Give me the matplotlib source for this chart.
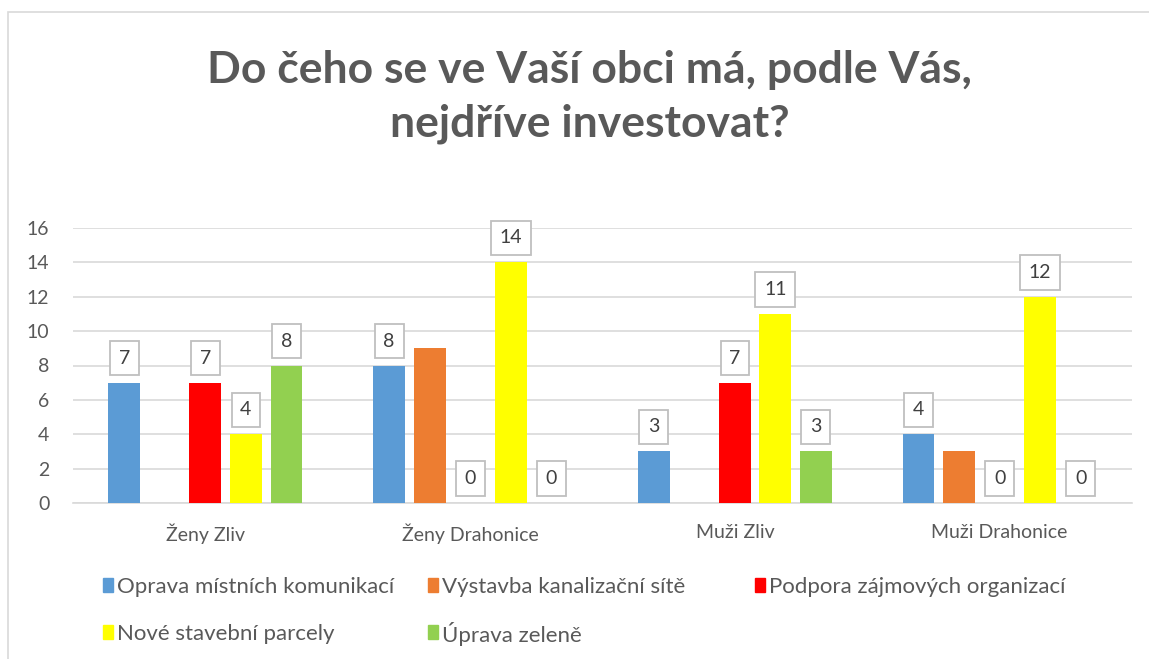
import matplotlib.pyplot as plt
from matplotlib.patches import Rectangle
import numpy as np

plt.rcParams['font.family'] = ['Lato', 'DejaVu Sans']

# data
categories = ['Ženy Zliv', 'Ženy Drahonice', 'Muži Zliv', 'Muži Drahonice']
series_names = ['Oprava místních komunikací', 'Výstavba kanalizační sítě',
                'Podpora zájmových organizací', 'Nové stavební parcely', 'Úprava zeleně']
oprava = [7, 8, 3, 4]
vystavba = [np.nan, 9, np.nan, 3]
podpora = [7, 0, 7, 0]
parcely = [4, 14, 11, 12]
zelen = [8, 0, 3, 0]
colors = ['#5B9BD5', '#ED7D31', '#FF0000', '#FFFF00', '#92D050']
show_labels = [True, False, True, True, True]

title = 'Do čeho se ve Vaší obci má, podle Vás,\nnejdříve investovat?'

txt = '#595959'
grid = '#D9D9D9'
W, H = 1149, 659

fig = plt.figure(figsize=(11.49, 6.59), dpi=100)
fig.patches.append(Rectangle((8 / W, -0.1), 1.2, (H - 12) / H + 0.1,
                             transform=fig.transFigure, fill=False,
                             edgecolor=grid, linewidth=1.2))

ax = fig.add_axes([73 / W, 1 - 503 / H, (1132 - 73) / W, (503 - 228) / H])

x = np.arange(len(categories))
step = 0.153
width = 0.12
all_vals = [oprava, vystavba, podpora, parcely, zelen]
for i, vals in enumerate(all_vals):
    pos = x + (i - 2) * step
    ax.bar(pos, vals, width, color=colors[i], zorder=3)
    if show_labels[i]:
        for p, v in zip(pos, vals):
            if np.isnan(v):
                continue
            ax.annotate(f'{v:g}', (p, v), xytext=(0, 11.5), textcoords='offset points',
                        ha='center', va='bottom', fontsize=14, color='#404040',
                        bbox=dict(boxstyle='square,pad=0.45', fc='white', ec='#BFBFBF', lw=1.3),
                        zorder=4)

ax.set_xlim(-0.5, 3.5)
ax.set_ylim(0, 16)
ax.set_yticks(range(0, 17, 2))
ax.set_xticks(x)
ax.set_xticklabels(categories)
ax.yaxis.grid(True, color=grid, linewidth=1.2, zorder=0)
for s in ['top', 'right', 'left']:
    ax.spines[s].set_visible(False)
ax.spines['bottom'].set_color(grid)
ax.spines['bottom'].set_linewidth(1.2)
ax.tick_params(axis='both', length=0, labelsize=14, labelcolor=txt)
ax.tick_params(axis='y', pad=17)
ax.tick_params(axis='x', pad=15)

fig.text(0.513, 0.853, title, ha='center', va='center', fontsize=32,
         fontweight='bold', color=txt, linespacing=1.4)

# legend drawn by hand: three equal columns, filled row by row
col_x = [103, 428, 755]
row_y = [585, 632]
for k, name in enumerate(series_names):
    cx = col_x[k % 3]
    cy = row_y[k // 3]
    fig.patches.append(Rectangle((cx / W, 1 - (cy + 7) / H), 10 / W, 14 / H,
                                 transform=fig.transFigure, color=colors[k]))
    fig.text((cx + 14) / W, 1 - cy / H, name, ha='left', va='center_baseline',
             fontsize=16, color=txt)

fig.savefig('out.png', dpi=100)
